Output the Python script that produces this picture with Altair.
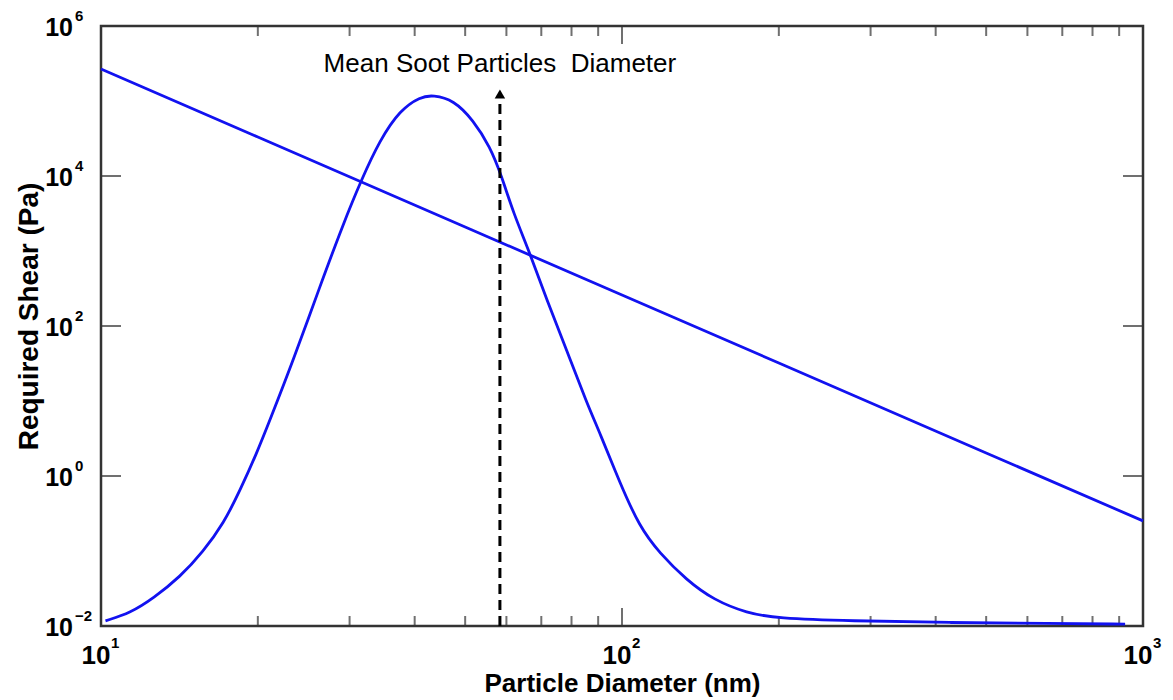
import altair as alt
import pandas as pd

# ---- data ----
dist_diam = [10.2, 11.4, 12.6, 14.2, 15.7, 17.2, 18.5, 19.9, 21.1, 23.4, 26.3, 29.2,
             31.6, 34.3, 37.5, 41.0, 43.4, 47.5, 51.8, 55.8, 58.8, 61.9, 66.6, 71.7,
             78.3, 85.6, 90.7, 99.1, 108, 118, 133, 150, 174, 198, 274, 426, 663, 924]
dist_shear = [0.0117, 0.0150, 0.0234, 0.0454, 0.098, 0.234, 0.650, 2.01, 5.58, 35.2,
              334, 2340, 8850, 30200, 75900, 114000, 120000, 103000, 55800, 24600,
              9800, 3180, 931, 222, 47.9, 9.40, 3.74, 0.807, 0.211, 0.0940, 0.0410,
              0.0222, 0.0148, 0.0127, 0.0117, 0.0111, 0.0108, 0.0106]

line_diam = [10, 20, 50, 100, 200, 500, 1000]
line_shear = [2.67e5, 3.31e4, 2.09e3, 259, 32.1, 2.03, 0.252]

mean_diam = [58.3]
arrow_top = 1.1e5
arrow_head = 1.24e5
annotation = ["Mean Soot Particles\u00a0 Diameter"]

x_label_vals = [10, 100, 1000]
x_label_exps = ["1", "2", "3"]
y_label_vals = [0.01, 1, 100, 1e4, 1e6]
y_label_exps = ["\u22122", "0", "2", "4", "6"]

x_minor_ticks = [20, 30, 40, 50, 60, 70, 80, 90, 200, 300, 400, 500, 600, 700, 800, 900]
x_major_ticks = [100]
y_major_ticks = [1, 100, 10000]

X_MIN, X_MAX = 10, 1000
Y_MIN, Y_MAX = 0.01, 1e6

# ---- styles ----
FONT = "Liberation Sans"
BLUE = "#1212f0"
FRAME = "#333333"

xscale = alt.Scale(type="log", domain=[X_MIN, X_MAX], nice=False)
yscale = alt.Scale(type="log", domain=[Y_MIN, Y_MAX], nice=False)
xaxis = alt.Axis(title="Particle Diameter (nm)", labels=False, ticks=False, domain=False,
                 grid=False, titleFont=FONT, titleFontSize=26, titleFontWeight="bold",
                 titleColor="black", titlePadding=44)
yaxis = alt.Axis(title="Required Shear (Pa)", labels=False, ticks=False, domain=False,
                 grid=False, titleFont=FONT, titleFontSize=28, titleFontWeight="bold",
                 titleColor="black", titlePadding=58, titleY=290)


def X(f):
    return alt.X(f, type="quantitative", scale=xscale, axis=xaxis)


def Y(f):
    return alt.Y(f, type="quantitative", scale=yscale, axis=yaxis)


dist_df = pd.DataFrame({"d": dist_diam, "s": dist_shear})
line_df = pd.DataFrame({"d": line_diam, "s": line_shear})
mean_df = pd.DataFrame({"d": mean_diam, "label": annotation})
xlab_df = pd.DataFrame({"v": x_label_vals, "e": x_label_exps})
ylab_df = pd.DataFrame({"v": y_label_vals, "e": y_label_exps})
xminor_df = pd.DataFrame({"v": x_minor_ticks})
xmajor_df = pd.DataFrame({"v": x_major_ticks})
ymajor_df = pd.DataFrame({"v": y_major_ticks})

dist = alt.Chart(dist_df).mark_line(color=BLUE, strokeWidth=2.8, interpolate="basis").encode(
    x=X("d"), y=Y("s"))
line = alt.Chart(line_df).mark_line(color=BLUE, strokeWidth=2.8).encode(x=X("d"), y=Y("s"))

rule = alt.Chart(mean_df).mark_rule(color="black", strokeWidth=3, strokeDash=[10, 6]).encode(
    x=X("d"), y=alt.datum(Y_MIN), y2=alt.datum(arrow_top))
head = alt.Chart(mean_df).mark_point(shape="triangle-up", filled=True, size=110, color="black",
                                     opacity=1).encode(x=X("d"), y=alt.datum(arrow_head))
note = alt.Chart(mean_df).mark_text(font=FONT, fontSize=26, color="black", align="center",
                                    baseline="alphabetic", dy=46).encode(
    x=X("d"), y=alt.datum(Y_MAX), text="label:N")

# tick labels
xlab = alt.Chart(xlab_df).mark_text(font=FONT, fontSize=26, fontWeight="bold", color="black",
                                    align="center", baseline="alphabetic", dx=-5, dy=38).encode(
    x=X("v"), y=alt.datum(Y_MIN), text=alt.value("10"))
xexp = alt.Chart(xlab_df).mark_text(font=FONT, fontSize=15, fontWeight="bold", color="black",
                                    align="left", baseline="alphabetic", dx=10, dy=22).encode(
    x=X("v"), y=alt.datum(Y_MIN), text="e:N")
ylab = alt.Chart(ylab_df).mark_text(font=FONT, fontSize=25, fontWeight="bold", color="black",
                                    align="right", baseline="alphabetic", dx=-28, dy=10).encode(
    x=alt.datum(X_MIN), y=Y("v"), text=alt.value("10"))
yexp = alt.Chart(ylab_df).mark_text(font=FONT, fontSize=15, fontWeight="bold", color="black",
                                    align="left", baseline="alphabetic", dx=-26, dy=-5).encode(
    x=alt.datum(X_MIN), y=Y("v"), text="e:N")

# inward ticks
tb_minor = alt.Chart(xminor_df).mark_tick(orient="vertical", size=10, thickness=2, color=FRAME,
                                         yOffset=-5).encode(x=X("v"), y=alt.datum(Y_MIN))
tt_minor = alt.Chart(xminor_df).mark_tick(orient="vertical", size=10, thickness=2, color=FRAME,
                                         yOffset=5).encode(x=X("v"), y=alt.datum(Y_MAX))
tb_major = alt.Chart(xmajor_df).mark_tick(orient="vertical", size=18, thickness=2, color=FRAME,
                                         yOffset=-9).encode(x=X("v"), y=alt.datum(Y_MIN))
tt_major = alt.Chart(xmajor_df).mark_tick(orient="vertical", size=18, thickness=2, color=FRAME,
                                         yOffset=9).encode(x=X("v"), y=alt.datum(Y_MAX))
tl_major = alt.Chart(ymajor_df).mark_tick(orient="horizontal", size=20, thickness=2, color=FRAME,
                                         xOffset=10).encode(x=alt.datum(X_MIN), y=Y("v"))
tr_major = alt.Chart(ymajor_df).mark_tick(orient="horizontal", size=20, thickness=2, color=FRAME,
                                         xOffset=-10).encode(x=alt.datum(X_MAX), y=Y("v"))

chart = alt.layer(
    tb_minor, tt_minor, tb_major, tt_major, tl_major, tr_major,
    line, dist, rule, head, note, xlab, xexp, ylab, yexp
).properties(
    width=1042, height=600,
    padding={"left": 93, "top": 18, "right": 20, "bottom": 72},
    autosize=alt.AutoSizeParams(type="none"),
    background="white",
).configure_view(stroke=FRAME, strokeWidth=2.5)

chart.save("out.html", embed_options={"renderer": "svg", "actions": False})
